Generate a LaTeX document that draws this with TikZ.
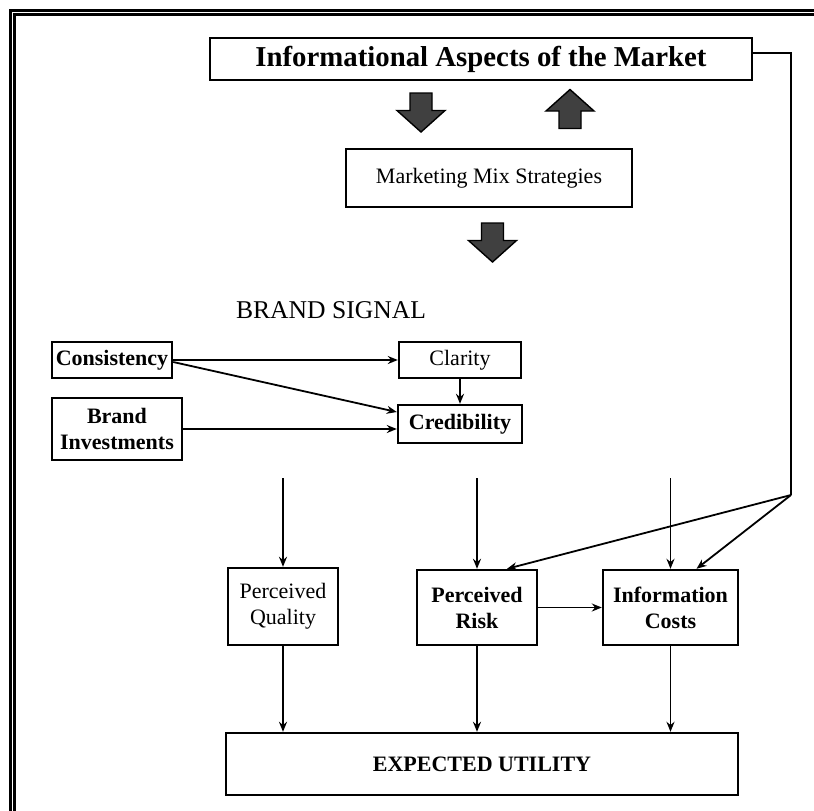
\documentclass[tikz,border=0pt]{standalone}
\usepackage{fontspec}
\setmainfont{Liberation Serif}
\usetikzlibrary{arrows.meta, positioning}

\begin{document}
\begin{tikzpicture}[x=0.5pt, y=-0.5pt,
  box/.style={draw, line width=1.2pt, inner sep=0pt, align=center, font=\fontsize{11}{13}\selectfont},
  boldbox/.style={box, font=\fontsize{11}{13}\selectfont\bfseries},
  conn/.style={-{Stealth[length=5pt,width=4pt]}, line width=0.9pt},
  blockarrow/.style={draw=black, fill=black!75, line width=0.7pt}]
\useasboundingbox (0,0) rectangle (814,810);

% Frame
\draw[double, line width=1.35pt, double distance=0.65pt] (12.7,812) |- (816,12.7);

% Nodes
\node[boldbox, minimum width=271pt, minimum height=21pt, font=\fontsize{14.4}{17}\selectfont\bfseries] (market) at (481,59) {Informational Aspects of the Market};
\node[box, minimum width=143pt, minimum height=29pt] (mix) at (489,178) {Marketing Mix Strategies};
\node[font=\fontsize{12.8}{15}\selectfont] (signal) at (331,310) {BRAND SIGNAL};
\node[boldbox, minimum width=60pt, minimum height=18pt] (consist) at (112,360) {Consistency};
\node[boldbox, minimum width=65pt, minimum height=31pt] (brand) at (117,429) {Brand\\Investments};
\node[box, minimum width=61pt, minimum height=18pt] (clarity) at (460,360) {Clarity};
\node[boldbox, minimum width=62pt, minimum height=19pt] (cred) at (460,424) {Credibility};
\node[box, minimum width=55pt, minimum height=38.5pt] (quality) at (283,606.5) {Perceived\\Quality};
\node[boldbox, minimum width=60pt, minimum height=37.5pt] (risk) at (477,607.5) {Perceived\\Risk};
\node[boldbox, minimum width=67.5pt, minimum height=37.5pt] (costs) at (670.5,607.5) {Information\\Costs};
\node[boldbox, minimum width=256pt, minimum height=31pt] (utility) at (482,764) {EXPECTED UTILITY};

\coordinate (qtop) at (283,478);
\coordinate (rtop) at (477,478);
\coordinate (ctop) at (670.5,478);
\coordinate (junc) at (791,495);

% Block arrows
\foreach \x/\y/\d in {421/112.5/1, 570/109/-1, 492.5/242.5/1}
  \draw[blockarrow, shift={(\x,\y)}, yscale=\d] (-11,-19.5) -- (11,-19.5) -- (11,-2) -- (24,-2) -- (0,19.5) -- (-24,-2) -- (-11,-2) -- cycle;

% Arrows
\draw[conn] (consist) -- (clarity);
\draw[conn] ([yshift=-1pt]consist.east) -- ([yshift=6pt]cred.west);
\draw[conn] (brand.east) -- (brand.east -| cred.west);
\draw[conn] (clarity) -- (cred);
\draw[conn] (qtop) -- (quality);
\draw[conn] (rtop) -- (risk);
\draw[conn] (ctop) -- (costs);
\draw[conn] (risk) -- (costs);
\draw[line width=0.9pt] ([yshift=3pt]market.east) -| (junc);
\draw[conn] (junc) -- ([xshift=15pt]risk.north);
\draw[conn] (junc) -- ([xshift=13pt]costs.north);
\draw[conn] (quality) -- (quality |- utility.north);
\draw[conn] (risk) -- (risk |- utility.north);
\draw[conn] (costs) -- (costs |- utility.north);
\end{tikzpicture}
\end{document}
